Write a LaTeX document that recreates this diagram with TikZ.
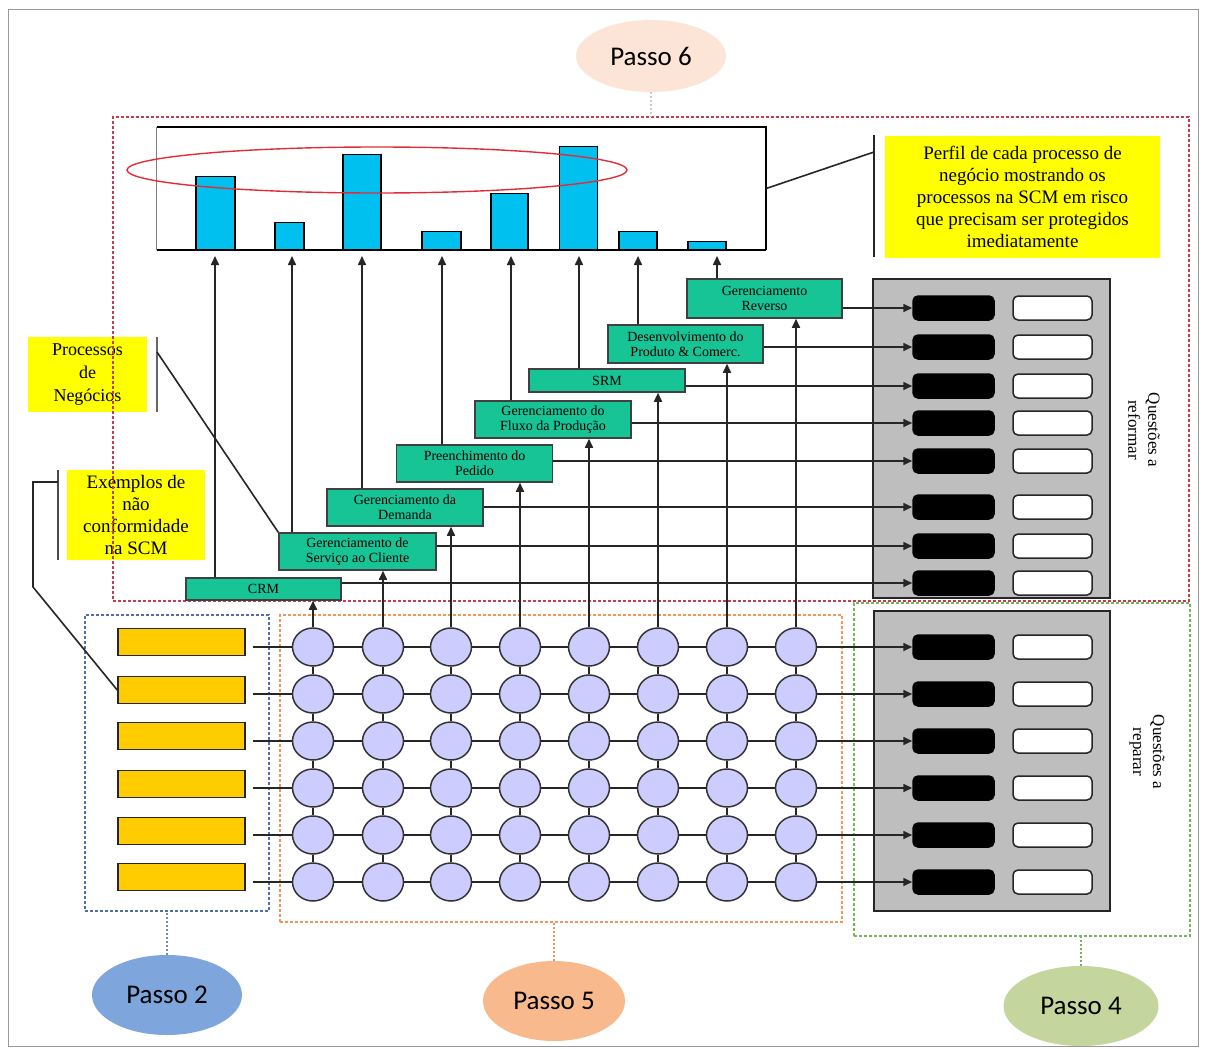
\documentclass[tikz,border=0pt]{standalone}
\usepackage{fontspec}
\setmainfont{Liberation Serif}
\newfontfamily\stepfont{Carlito}
\usetikzlibrary{arrows.meta,shapes.geometric}

\definecolor{procgreen}{RGB}{22,196,150}
\definecolor{barcyan}{RGB}{0,192,240}
\definecolor{nodeblue}{RGB}{204,204,255}
\definecolor{rowgold}{RGB}{255,204,0}
\definecolor{noteyellow}{RGB}{255,255,0}
\definecolor{panelgray}{RGB}{190,190,190}
\definecolor{sixfill}{RGB}{252,229,214}
\definecolor{twofill}{RGB}{126,166,220}
\definecolor{fivefill}{RGB}{248,186,140}
\definecolor{fourfill}{RGB}{196,214,158}
\definecolor{sixline}{RGB}{196,60,80}
\definecolor{twoline}{RGB}{80,110,170}
\definecolor{fiveline}{RGB}{240,150,90}
\definecolor{fourline}{RGB}{120,180,90}
\definecolor{ringred}{RGB}{225,45,55}

\begin{document}
\begin{tikzpicture}[x=1pt,y=-1pt,
  wire/.style={line width=1.6pt,draw=black!85},
  tip/.style={-{Triangle[length=9pt,width=8pt]}},
  proc/.style={draw=black!75,line width=1.5pt,fill=procgreen,inner sep=0pt,align=center,
    minimum width=156pt,font=\fontsize{14}{15}\selectfont},
  bar/.style={draw=black,line width=1.5pt,fill=barcyan,anchor=south,inner sep=0pt},
  hub/.style={ellipse,draw=black!80,line width=1.5pt,fill=nodeblue,minimum width=41pt,
    minimum height=38pt,inner sep=0pt},
  gold/.style={draw=black!85,line width=1.5pt,fill=rowgold,minimum width=127pt,
    minimum height=27pt,inner sep=0pt},
  key/.style={rounded corners=5pt,draw=black,line width=1.5pt,fill=black,minimum width=81pt,
    minimum height=24pt,inner sep=0pt},
  slot/.style={rounded corners=5pt,draw=black!85,line width=1.5pt,fill=white,minimum width=79pt,
    minimum height=24pt,inner sep=0pt},
  panel/.style={draw=black!85,line width=1.5pt,fill=panelgray,inner sep=0pt},
  note/.style={fill=noteyellow,inner sep=0pt,align=center},
  zone/.style={line width=1.2pt,dash pattern=on 3pt off 2pt,inner sep=0pt},
  stepoval/.style={ellipse,inner sep=0pt,minimum height=80pt,
    font=\stepfont\fontsize{27}{30}\selectfont},
  hint/.style={line width=1.5pt,dash pattern=on 2pt off 2pt},
  qlabel/.style={rotate=-90,align=center,font=\fontsize{17}{20}\selectfont},
]
\useasboundingbox (0,0) rectangle (1205,1049);
\fill[white] (0,0) rectangle (1205,1049);
\draw[black!40,line width=1pt] (8,10) rectangle (1198,1046);

% yellow explanatory notes
\node[note,minimum width=119pt,minimum height=75pt,font=\fontsize{18}{23}\selectfont]
  (procnote) at (87.5,374.5) {Processos\\de\\Negócios};
\node[note,minimum width=138pt,minimum height=90pt,font=\fontsize{19}{22}\selectfont]
  (exnote) at (136,515) {Exemplos de\\não\\conformidade\\na SCM};
\node[note,minimum width=275pt,minimum height=122pt,font=\fontsize{19}{22}\selectfont]
  (perfil) at (1022.5,197) {Perfil de cada processo de\\negócio mostrando os\\processos na SCM em risco\\que precisam ser protegidos\\imediatamente};

% dashed zones of the steps
\node[zone,draw=twoline,minimum width=184pt,minimum height=296pt] (zone2) at (177,763) {};
\node[zone,draw=fiveline,minimum width=562pt,minimum height=307pt] (zone5) at (561,768.5) {};
\node[zone,draw=fourline,minimum width=336pt,minimum height=333pt] (zone4) at (1022,769.5) {};
\node[zone,draw=sixline,minimum width=1076pt,minimum height=484pt] (zone6) at (651,359) {};

% step ovals
\node[stepoval,fill=sixfill,minimum width=150pt,minimum height=72pt] (p6) at (651,56) {Passo 6};
\node[stepoval,fill=twofill,minimum width=150pt] (p2) at (167,995) {Passo 2};
\node[stepoval,fill=fivefill,minimum width=142pt] (p5) at (554,1001) {Passo 5};
\node[stepoval,fill=fourfill,minimum width=155pt] (p4) at (1081,1006) {Passo 4};
\draw[hint,draw=black!20] (p6.south) -- (p6.south |- zone6.north);
\draw[hint,draw=twoline!80] (p2.north) -- (p2.north |- zone2.south);
\draw[hint,draw=fiveline] (p5.north) -- (p5.north |- zone5.south);
\draw[hint,draw=fourline] (p4.north) -- (p4.north |- zone4.south);

% profile chart
\node[inner sep=0pt,minimum width=609pt,minimum height=123pt] (chart) at (461.5,188.5) {};
\foreach \n/\bx/\bw/\bt in {1/215.5/39/177, 2/289.5/29/223, 3/362/38/155, 4/441.5/39/232,
                            5/509.5/37/194, 6/578.5/38/147, 7/638/38/232, 8/707/38/242}
  \node[bar,minimum width=\bw pt,minimum height={250-\bt}] (bar\n) at (\bx,250) {};
\draw[line width=1.6pt] (chart.north west) -- (chart.north east) -- (chart.south east);
\draw[line width=2.2pt] (chart.south west) -- (chart.south east);
\draw[black!50,line width=0.8pt] (chart.south west) -- (chart.north west);
\draw[ringred,line width=1.4pt] (377,170) ellipse [x radius=250,y radius=23];

% leader of the profile note
\coordinate (fbt) at (874,135);
\coordinate (fbb) at (874,257);
\coordinate (fbj) at (874,152);
\draw[wire] (fbt) -- (fbb);
\draw[wire] (chart.east) -- (fbj);

% business processes
\node[proc,minimum width=155pt,minimum height=22pt] (crm) at (263.5,589) {CRM};
\node[proc,minimum width=157pt,minimum height=37pt] (serv) at (357.5,551.5) {Gerenciamento de\\Serviço ao Cliente};
\node[proc,minimum height=37pt] (dem) at (405,507.5) {Gerenciamento da\\Demanda};
\node[proc,minimum height=37pt] (ped) at (474.5,463.5) {Preenchimento do\\Pedido};
\node[proc,minimum height=37pt] (flux) at (553,419.5) {Gerenciamento do\\Fluxo da Produção};
\node[proc,minimum height=23pt] (srm) at (607,380.5) {SRM};
\node[proc,minimum width=155pt,minimum height=38pt] (dev) at (685.5,344) {Desenvolvimento do\\Produto \& Comerc.};
\node[proc,minimum width=155pt,minimum height=39pt] (rev) at (764.5,298.5) {Gerenciamento\\Reverso};

% arrows from the processes up to their bars
\foreach \n/\x in {1/215,2/292,3/362,4/442,5/511,6/579,7/638,8/717}
  \coordinate (ax\n) at (\x,256);
\foreach \n/\b in {1/crm,2/serv,3/dem,4/ped,5/flux,6/srm,7/dev,8/rev}
  \draw[wire,tip] (\b.north -| ax\n) -- (ax\n);

% leaders of the left notes
\coordinate (pbt) at (157,337);
\coordinate (pbb) at (157,412);
\coordinate (pbj) at (157,352);
\draw[black!60,line width=1.3pt] (pbt) -- (pbb);
\draw[wire] (pbj) -- (serv.north west);

% question panels
\node[panel,minimum width=237pt,minimum height=319pt] (panU) at (991.5,438.5) {};
\node[panel,minimum width=236pt,minimum height=300pt] (panL) at (992,761) {};
\foreach \i/\y in {1/308,2/347,3/386,4/423,5/461,6/507,7/546,8/583} {
  \node[key] (ku\i) at (953.5,\y) {};
  \node[slot] (su\i) at (1052.5,\y) {};
}
\foreach \i/\y in {1/647,2/694,3/741,4/788,5/835,6/882} {
  \node[key] (kl\i) at (953.5,\y) {};
  \node[slot] (sl\i) at (1052.5,\y) {};
}
\node[qlabel] (qref) at (1144,430) {Questões a\\reformar};
\node[qlabel] (qrep) at (1147,752) {Questões a\\reparar};

% processes feeding the questions to reform
\foreach \b/\i in {rev/1,dev/2,srm/3,flux/4,ped/5,dem/6,serv/7,crm/8}
  \draw[wire,tip] (\b.east |- ku\i.west) -- (ku\i.west);

% examples of non-conformity and the network grid
\foreach \r/\y in {1/642,2/690,3/736,4/784,5/831,6/877}
  \node[gold] (g\r) at (181.5,\y) {};
\foreach \c/\x in {1/313,2/383,3/451,4/520,5/589,6/658,7/727,8/796}
  \foreach \r/\y in {1/647,2/694,3/741,4/788,5/835,6/882}
    \node[hub] (hub\c\r) at (\x,\y) {};
\foreach \r/\y in {1/647,2/694,3/741,4/788,5/835,6/882} {
  \coordinate (rs\r) at (253,\y);
  \draw[wire,tip] (rs\r) -- (hub1\r) -- (hub2\r) -- (hub3\r) -- (hub4\r) -- (hub5\r)
    -- (hub6\r) -- (hub7\r) -- (hub8\r) -- (kl\r);
}
\foreach \c/\b in {1/crm,2/serv,3/dem,4/ped,5/flux,6/srm,7/dev,8/rev}
  \draw[wire,tip] (hub\c6) -- (hub\c5) -- (hub\c4) -- (hub\c3) -- (hub\c2) -- (hub\c1)
    -- (hub\c1 |- \b.south);

\coordinate (ebt) at (58,470);
\coordinate (ebb) at (58,560);
\coordinate (ebj) at (58,482);
\coordinate (ebk) at (33,482);
\coordinate (ebl) at (33,587);
\draw[black!70,line width=1.5pt] (ebt) -- (ebb);
\draw[wire] (ebj) -- (ebk) -- (ebl) -- (g2.west);
\end{tikzpicture}
\end{document}
